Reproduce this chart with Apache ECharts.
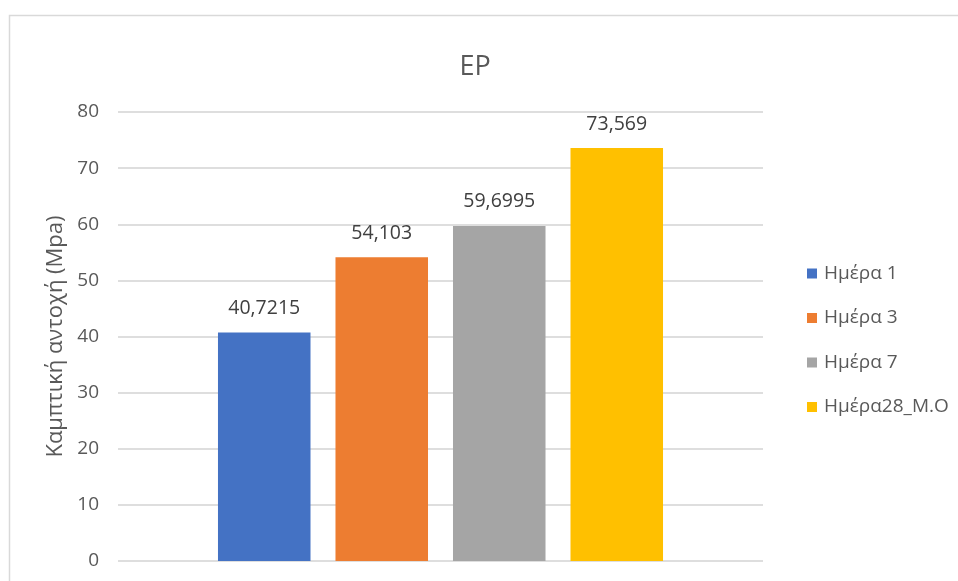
<!DOCTYPE html>
<html>
<head>
<meta charset="utf-8">
<script src="https://cdn.jsdelivr.net/npm/echarts@6/dist/echarts.min.js"></script>
<style>
  html, body { margin: 0; padding: 0; background: #ffffff; }
  #chart { width: 958px; height: 581px; }
</style>
</head>
<body>
<div id="chart"></div>
<script>
// Flexural strength per curing age
const seriesNames = ['Ημέρα 1', 'Ημέρα 3', 'Ημέρα 7', 'Ημέρα28_Μ.Ο'];
const seriesValues = [40.7215, 54.103, 59.6995, 73.569];
const seriesColors = ['#4472C4', '#ED7D31', '#A5A5A5', '#FFC000'];
const categories = [''];
const yTicks = { min: 0, max: 80, interval: 10 };

const FONT = '"Open Sans", "Noto Sans", sans-serif';
const TEXT = '#595959';

const chart = echarts.init(document.getElementById('chart'), null, { renderer: 'canvas' });

const series = seriesNames.map((name, i) => ({
  name: name,
  type: 'bar',
  data: [seriesValues[i]],
  itemStyle: { color: seriesColors[i] },
  barGap: '27%',
  barCategoryGap: '31%',
  label: {
    show: true,
    position: 'top',
    distance: 14,
    color: '#404040',
    fontFamily: FONT,
    fontSize: 19.5,
    formatter: p => String(p.value).replace('.', ',')
  }
}));

chart.setOption({
  animation: false,
  backgroundColor: '#ffffff',
  graphic: [{
    type: 'rect',
    left: 7, top: 13,
    shape: { width: 1000, height: 620 },
    style: { fill: 'none', stroke: '#d9d9d9', lineWidth: 1.5 },
    silent: true
  }],
  title: {
    text: 'EP',
    left: 470, top: 49,
    textAlign: 'center',
    textStyle: { color: TEXT, fontFamily: FONT, fontSize: 27, fontWeight: 'normal' }
  },
  legend: {
    orient: 'vertical',
    left: 802, top: 259,
    itemWidth: 10, itemHeight: 10,
    itemGap: 25.5,
    icon: 'rect',
    textStyle: { color: TEXT, fontFamily: FONT, fontSize: 19, padding: [0, 0, 0, 2] },
    data: seriesNames
  },
  grid: { left: 118, right: 195, top: 112, bottom: 20, containLabel: false },
  xAxis: {
    type: 'category',
    data: categories,
    axisLine: { show: false },
    axisTick: { show: false },
    axisLabel: { show: false }
  },
  yAxis: {
    type: 'value',
    min: yTicks.min, max: yTicks.max, interval: yTicks.interval,
    name: 'Καμπτική αντοχή (Mpa)',
    nameLocation: 'middle',
    nameGap: 51,
    nameTextStyle: { color: TEXT, fontFamily: FONT, fontSize: 22 },
    axisLine: { show: false },
    axisTick: { show: false },
    axisLabel: { color: TEXT, fontFamily: FONT, fontSize: 19, margin: 19 },
    splitLine: { lineStyle: { color: '#dedede', width: 2 } }
  },
  series: series
});
</script>
</body>
</html>
